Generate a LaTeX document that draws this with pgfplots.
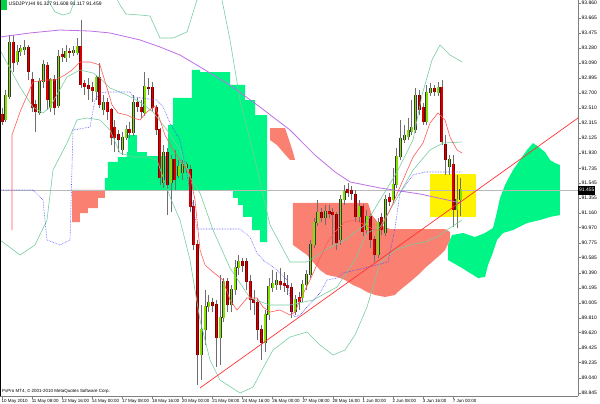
\documentclass[border=0pt]{standalone}
\usepackage{pgfplots}
\pgfplotsset{compat=1.18}
\usepackage{pgfplotstable}
\usepackage{fontspec}
\setmainfont{Liberation Sans}
\definecolor{cgreen}{RGB}{0,245,135}
\definecolor{csalmon}{RGB}{250,128,114}
\definecolor{bullfill}{RGB}{130,225,0}
\definecolor{bulledge}{RGB}{55,55,55}
\definecolor{bearfill}{RGB}{215,0,0}
\definecolor{bearedge}{RGB}{120,0,0}
\definecolor{wick}{RGB}{110,110,110}
\definecolor{maline}{RGB}{255,90,90}
\definecolor{bbgreen}{RGB}{120,205,160}
\definecolor{purp}{RGB}{190,110,230}
\definecolor{kblue}{RGB}{70,70,255}
\definecolor{trend}{RGB}{255,50,50}
\definecolor{bidgray}{RGB}{185,185,185}
\definecolor{axisgray}{RGB}{128,128,128}
\definecolor{topgreen}{RGB}{0,210,70}
\newcommand{\tf}{\fontsize{5}{6}\selectfont}
\newcommand{\xf}{\fontsize{4.5}{5.5}\selectfont}

\pgfplotstableread{
i o h l c
1 92.356 92.742 92.330 92.665
2 92.652 93.449 92.626 93.346
4 93.102 93.320 93.063 93.230
5 93.230 93.320 93.179 93.269
6 93.256 93.385 93.192 93.282
10 92.446 92.896 92.420 92.845
11 92.845 93.127 92.767 93.063
13 92.510 92.896 92.459 92.870
15 92.536 93.256 92.510 93.166
17 93.153 93.320 93.102 93.230
19 93.217 93.307 93.179 93.243
20 93.217 93.410 93.192 93.295
25 92.716 92.935 92.613 92.896
27 92.484 92.677 92.420 92.575
32 91.970 92.202 91.906 92.124
33 92.124 92.292 92.099 92.227
35 92.189 92.677 92.150 92.575
38 92.446 92.973 92.407 92.780
43 91.546 92.034 91.482 91.932
45 91.546 91.906 91.173 91.842
47 91.636 91.842 91.610 91.752
48 91.674 91.842 91.584 91.777
49 91.739 91.816 91.687 91.777
53 89.334 89.977 89.012 89.656
54 89.656 90.170 89.463 89.951
55 89.951 90.106 89.887 90.003
58 89.553 90.363 89.205 89.810
59 89.810 90.324 89.758 90.273
61 89.977 90.234 89.887 90.170
62 90.170 90.556 90.106 90.453
63 90.453 90.620 90.363 90.530
70 89.488 89.913 89.373 89.848
71 89.848 90.324 89.784 90.208
72 90.196 90.427 90.144 90.247
73 90.234 90.401 90.170 90.286
78 89.887 90.106 89.848 90.041
80 90.067 90.298 90.015 90.234
81 90.234 90.427 90.170 90.363
82 90.363 90.813 90.324 90.749
83 90.749 91.096 90.710 91.031
84 91.031 91.327 90.993 91.160
86 91.096 91.263 91.006 91.173
90 90.813 91.392 90.749 91.327
91 91.327 91.520 91.263 91.430
95 91.109 91.327 91.044 91.237
97 90.941 91.199 90.877 91.109
100 90.620 91.096 90.581 91.031
102 90.903 91.392 90.864 91.327
104 91.327 91.739 91.289 91.520
105 91.520 91.996 91.482 91.880
106 91.880 92.356 91.842 92.112
107 92.099 92.292 92.060 92.150
108 92.137 92.382 92.099 92.214
109 92.202 92.613 92.163 92.253
110 92.227 92.767 92.189 92.665
113 92.330 92.806 92.292 92.703
114 92.703 92.832 92.665 92.755
116 92.703 92.845 92.665 92.767
119 91.752 91.906 91.649 91.842
121 91.199 91.649 90.967 91.327
122 91.327 91.608 91.117 91.459
}\bull

\pgfplotstableread{
i o h l c
0 92.420 92.510 92.292 92.330
3 93.346 93.449 92.973 93.089
7 93.282 93.320 92.870 92.973
8 92.870 92.973 92.459 92.510
9 92.549 92.613 92.202 92.459
12 93.050 93.102 92.484 92.613
14 92.870 92.935 92.420 92.510
16 93.192 93.282 93.102 93.166
18 93.230 93.282 93.153 93.217
21 93.295 93.642 92.767 92.806
22 92.819 92.870 92.677 92.780
23 92.793 92.896 92.613 92.755
24 92.767 92.845 92.587 92.729
26 92.896 93.089 92.510 92.549
28 92.575 92.639 92.356 92.459
29 92.484 92.510 92.034 92.124
30 92.253 92.356 91.944 92.124
31 92.163 92.227 91.944 92.099
34 92.227 92.330 92.124 92.189
36 92.575 92.639 92.459 92.523
37 92.510 92.613 92.382 92.459
39 92.767 92.896 92.677 92.755
40 92.767 92.845 92.459 92.510
41 92.510 92.549 92.163 92.227
42 92.227 92.253 91.520 91.610
44 91.932 91.996 91.134 91.520
46 91.842 91.970 91.456 91.584
50 91.713 91.777 91.173 91.237
51 91.237 91.327 90.684 90.749
52 90.749 90.813 88.948 89.334
56 90.003 90.067 89.887 89.964
57 89.977 90.041 89.180 89.553
60 90.273 90.324 89.887 89.977
64 90.530 90.581 90.401 90.478
65 90.530 90.581 90.170 90.273
66 90.273 90.363 89.913 90.041
67 90.041 90.170 89.848 90.003
68 90.003 90.067 89.527 89.656
69 89.656 89.720 89.270 89.488
74 90.273 90.453 90.170 90.234
75 90.247 90.401 90.144 90.221
76 90.221 90.363 90.106 90.196
77 90.196 90.260 89.810 89.887
79 90.067 90.144 89.913 90.015
85 91.160 91.224 91.044 91.096
87 91.173 91.263 91.096 91.147
88 91.160 91.224 90.749 91.134
89 91.134 91.173 90.684 90.774
92 91.456 91.546 91.366 91.417
93 91.443 91.507 91.327 91.404
94 91.392 91.456 91.044 91.109
96 91.237 91.276 90.864 90.916
98 91.109 91.147 90.710 90.813
99 90.813 90.864 90.530 90.620
101 91.096 91.160 90.877 90.941
103 91.353 91.417 91.250 91.302
111 92.665 92.742 92.420 92.484
112 92.510 92.575 92.292 92.330
115 92.755 92.806 92.665 92.716
117 92.767 92.870 92.034 92.073
118 92.034 92.163 91.649 91.842
120 91.777 91.906 90.980 91.199
}\bear

\begin{document}
\begin{tikzpicture}
\begin{axis}[
  scale only axis, width=578bp, height=396bp,
  xmin=-0.532, xmax=153.19, ymin=88.807, ymax=93.899,
  separate axis lines,
  axis x line*=bottom, axis y line*=right,
  axis line style={draw=axisgray, line width=0.8bp},
  xtick={0,8,...,120},
  xticklabels={10 May 2010,11 May 08:00,12 May 16:00,14 May 00:00,17 May 08:00,18 May 16:00,20 May 00:00,21 May 08:00,24 May 16:00,26 May 00:00,27 May 08:00,28 May 16:00,1 Jun 00:00,2 Jun 08:00,3 Jun 16:00,7 Jun 00:00},
  xticklabel style={anchor=north west, inner sep=0pt, font=\xf, xshift=-0.5bp, yshift=-0.5bp},
  ytick={93.860,93.665,93.475,93.280,93.090,92.895,92.700,92.510,92.315,92.125,91.930,91.735,91.545,91.355,91.160,90.970,90.775,90.585,90.390,90.195,90.005,89.810,89.620,89.425,89.235,89.040,88.845},
  yticklabels={93.860,93.665,93.475,93.280,93.090,92.895,92.700,92.510,92.315,92.125,91.930,91.735,91.545,91.355,91.160,90.970,90.775,90.585,90.390,90.195,90.005,89.810,89.620,89.425,89.235,89.040,88.845},
  yticklabel style={font=\tf, anchor=west, inner sep=0pt, xshift=1bp},
  tick align=outside, major tick length=2.5bp,
  tick style={draw=axisgray, line width=0.6bp},
  clip mode=individual,
]
% Ichimoku cloud areas
\addplot[fill=csalmon, draw=none] coordinates {(18.62,91.456) (27.39,91.456) (27.39,91.353) (25.53,91.353) (25.53,91.224) (22.87,91.224) (22.87,91.160) (20.74,91.160) (20.74,91.044) (18.62,91.044)} --cycle;
\addplot[fill=cgreen, draw=none] coordinates {(27.39,91.456) (27.39,91.610) (28.19,91.610) (28.19,91.816) (30.85,91.816) (30.85,91.880) (33.24,91.880) (33.24,91.944) (33.51,91.944) (33.51,92.163) (35.9,92.163) (35.9,91.944) (38.56,91.944) (38.56,91.893) (44.15,91.893) (44.15,92.292) (45.48,92.292) (45.48,92.639) (50.53,92.639) (50.53,92.999) (52.66,92.999) (52.66,92.973) (60.64,92.973) (60.64,92.806) (64.63,92.806) (64.63,92.613) (67.29,92.613) (67.29,92.420) (70.48,92.420) (70.48,90.787) (68.62,90.787) (68.62,90.941) (66.49,90.941) (66.49,91.109) (64.1,91.109) (64.1,91.263) (62.77,91.263) (62.77,91.353) (61.44,91.353) (61.44,91.456)} --cycle;
\addplot[fill=csalmon, draw=none] coordinates {(71.28,92.253) (75.27,92.253) (76.33,92.099) (77.39,91.944) (77.93,91.842) (76.6,91.842) (74.73,91.944) (73.14,92.034) (71.28,92.099)} --cycle;
\addplot[fill=csalmon, draw=none] coordinates {(77.39,91.289) (97.34,91.289) (98.4,91.134) (100.53,91.006) (103.19,90.954) (117.82,90.954) (119.15,90.916) (119.15,90.813) (117.82,90.684) (116.49,90.620) (114.36,90.530) (112.5,90.453) (110.64,90.363) (108.51,90.273) (105.85,90.170) (104.52,90.106) (101.86,90.080) (99.2,90.106) (97.07,90.144) (95.21,90.196) (93.35,90.234) (91.22,90.298) (89.1,90.337) (86.44,90.363) (84.57,90.427) (82.71,90.530) (81.12,90.620) (79.26,90.684) (77.39,90.749)} --cycle;
\addplot[fill=cgreen, draw=none] coordinates {(118.62,90.749) (119.68,90.877) (122.61,90.903) (125.8,90.851) (128.46,90.903) (130.59,90.967) (131.65,91.173) (132.45,91.353) (133.78,91.520) (135.9,91.713) (137.77,91.842) (139.63,91.970) (141.22,92.060) (143.09,91.996) (144.41,91.944) (145.74,91.842) (147.07,91.803) (148.4,91.777) (148.4,91.134) (145.74,91.109) (143.09,91.070) (139.63,91.031) (135.9,90.941) (133.24,90.903) (131.65,90.813) (130.32,90.620) (129.26,90.491) (128.46,90.337) (126.6,90.324) (124.47,90.388) (122.34,90.453) (120.48,90.504) (118.62,90.556)} --cycle;
% yellow rectangle
\addplot[fill=yellow, draw=none] coordinates {(113.83,91.109) (126.06,91.109) (126.06,91.662) (113.83,91.662)} --cycle;
% bid line
\addplot[bidgray, line width=0.8bp] coordinates {(-0.532,91.455) (153.19,91.455)};
% wicks
\addplot[draw=none, mark=none, error bars/.cd, y dir=plus, y explicit, error mark=none, error bar style={draw=wick, line width=0.8bp}] table[x=i, y=l, y error plus expr=\thisrow{h}-\thisrow{l}] {\bull};
\addplot[draw=none, mark=none, error bars/.cd, y dir=plus, y explicit, error mark=none, error bar style={draw=wick, line width=0.8bp}] table[x=i, y=l, y error plus expr=\thisrow{h}-\thisrow{l}] {\bear};
% bodies
\addplot[draw=none, mark=none, error bars/.cd, y dir=plus, y explicit, error mark=none, error bar style={draw=bulledge, line width=3bp}] table[x=i, y=o, y error plus expr=\thisrow{c}-\thisrow{o}+0.008] {\bull};
\addplot[draw=none, mark=none, error bars/.cd, y dir=plus, y explicit, error mark=none, error bar style={draw=bullfill, line width=1.6bp}] table[x=i, y=o, y error plus expr=\thisrow{c}-\thisrow{o}+0.008] {\bull};
\addplot[draw=none, mark=none, error bars/.cd, y dir=plus, y explicit, error mark=none, error bar style={draw=bearedge, line width=3bp}] table[x=i, y=c, y error plus expr=\thisrow{o}-\thisrow{c}+0.008] {\bear};
\addplot[draw=none, mark=none, error bars/.cd, y dir=plus, y explicit, error mark=none, error bar style={draw=bearfill, line width=1.6bp}] table[x=i, y=c, y error plus expr=\thisrow{o}-\thisrow{c}+0.008] {\bear};
% Bollinger bands
\addplot[bbgreen, line width=0.6bp] coordinates {(-0.53,94.413) (10.1,94.156) (12.23,93.899) (14.1,93.745) (16.22,93.706) (18.09,93.732) (19.41,93.899) (22.07,94.092) (28.72,94.092) (31.38,93.835) (32.98,93.719) (36.7,93.706) (39.36,93.693) (42.02,93.410) (45.48,93.410) (49.2,93.488) (51.86,93.899) (55.32,94.220) (57.98,94.028) (60.64,93.385) (63.3,92.613) (67.29,91.842) (71.28,91.006) (76.6,90.530) (81.12,90.530) (85.9,90.684) (91.22,90.813) (96.54,91.006) (100.53,91.327) (105.05,91.687) (109.31,92.099) (111.7,92.677) (114.36,93.127) (116.49,93.320) (119.15,93.192) (122.34,93.102)};
\addplot[bbgreen, line width=0.6bp] coordinates {(-0.53,93.256) (4.79,92.780) (8.24,92.523) (10.9,92.446) (12.77,92.523) (17.29,92.909) (20.74,92.999) (24.2,92.960) (26.06,92.896) (28.72,92.767) (33.24,92.677) (36.7,92.587) (40.16,92.459) (43.88,92.227) (47.34,91.970) (50,91.623) (52.66,91.417) (56.12,90.941) (60.64,90.453) (65.96,90.067) (71.28,89.977) (76.6,89.977) (82.71,90.041) (89.1,90.208) (93.88,90.556) (97.07,90.903) (100.53,90.980) (105.85,91.417) (109.31,91.713) (113.83,91.970) (117.29,92.060) (122.34,92.073)};
\addplot[bbgreen, line width=0.6bp] coordinates {(-0.53,90.813) (4.79,90.620) (8.78,90.749) (11.97,91.070) (13.56,91.713) (17.29,92.060) (19.95,92.356) (22.61,92.382) (26.06,92.356) (28.72,92.227) (31.38,91.932) (34.84,91.880) (38.56,91.880) (41.22,91.842) (44.68,91.366) (47.34,91.070) (50,90.556) (52.66,89.784) (55.32,89.270) (57.98,89.012) (63.3,88.845) (66.76,88.922) (69.15,89.141) (72.07,89.398) (76.6,89.565) (81.12,89.630) (84.57,89.463) (88.03,89.334) (91.22,89.398) (93.88,89.591) (97.07,89.951) (100.53,90.517) (104.52,90.684) (108.51,90.749) (112.5,90.787) (115.69,90.851) (118.35,90.941) (122.34,91.070)};
% purple MA
\addplot[purp, line width=0.8bp] coordinates {(-0.53,93.423) (7.45,93.475) (15.43,93.513) (23.4,93.500) (28.7,93.475) (36.7,93.385) (42.0,93.295) (47.3,93.192) (52.7,93.037) (60.6,92.806) (68.6,92.523) (76.6,92.227) (83.2,91.906) (88.6,91.687) (92.6,91.559) (100.5,91.482) (111.2,91.404) (122.1,91.289)};
% blue dotted
\addplot[kblue, line width=0.6bp, densely dotted] coordinates {(-0.53,91.456) (8.24,91.456) (10.9,91.327) (11.97,90.813) (15.43,90.749) (18.09,90.813) (18.88,92.227) (23.4,92.266) (24.73,92.613) (26.06,92.703) (27.93,92.716) (34.04,92.716) (34.84,92.652) (41.22,92.613) (42.82,92.523) (44.68,92.317) (47.34,92.099) (50.0,91.456) (51.86,90.954) (63.3,90.954) (65.96,90.851) (67.82,90.646) (69.41,90.556) (72.07,90.466) (73.94,90.388) (75.8,90.298) (76.6,90.080) (77.13,89.874) (77.93,89.823) (79.26,89.848) (81.12,89.951) (84.57,90.131) (86.44,90.298) (89.1,90.324) (90.69,90.388) (96.54,90.453) (102.66,90.530) (104.52,90.967) (105.85,91.417) (109.31,91.649) (112.5,91.687) (122.34,91.687)};
% red MA
\addplot[maline, line width=0.6bp] coordinates {(2.66,90.941) (2.66,92.163) (4.79,92.459) (8.24,92.845) (11.44,92.870) (14.1,92.870) (16.76,92.935) (18.62,92.999) (20.74,93.102) (23.4,93.102) (26.06,93.063) (27.93,92.767) (29.26,92.549) (30.85,92.446) (33.24,92.420) (34.84,92.382) (36.7,92.356) (38.56,92.459) (40.69,92.536) (42.02,92.356) (43.35,92.163) (45.21,91.996) (47.34,91.842) (50,91.649) (51.33,91.327) (52.66,90.684) (53.99,90.491) (56.12,90.401) (58.78,90.298) (60.64,90.041) (62.5,89.913) (65.16,90.067) (67.82,90.067) (69.41,89.951) (71.28,89.887) (73.94,89.913) (76.6,89.848) (77.93,89.887) (79.26,90.041) (81.91,90.298) (84.57,90.581) (86.44,90.774) (88.56,90.916) (91.22,91.044) (93.88,91.070) (96.54,91.006) (99.2,90.941) (100.53,90.941) (103.19,91.199) (105.85,91.494) (109.31,91.880) (111.97,92.060) (113.83,92.317) (115.96,92.446) (117.82,92.356) (119.15,92.137) (121.01,91.970) (122.34,91.932)};
% trend line
\addplot[trend, line width=0.7bp] coordinates {(52.66,88.910) (153.19,92.382)};
% annotations
\fill[topgreen] (rel axis cs:0,1) rectangle ([xshift=7bp,yshift=-10bp]rel axis cs:0,1);
\node[anchor=north west, inner sep=0pt, font=\tf, xshift=8.5bp, yshift=-1.5bp] at (rel axis cs:0,1) {USDJPY,H4 91.327 91.608 91.117 91.459};
\node[anchor=south west, inner sep=0pt, font=\xf, xshift=2bp, yshift=2.5bp] at (rel axis cs:0,0) {PvPro MT4, \textcopyright\ 2001-2010 MetaQuotes Software Corp.};
\draw[black, line width=1bp] (rel axis cs:0,0) -- (rel axis cs:0,1);
\node[fill=black, text=white, anchor=west, inner xsep=1bp, inner ysep=0pt, minimum height=9bp, font=\tf] at (axis cs:153.19,91.455) {91.455};
\end{axis}
\pgfresetboundingbox
\path[use as bounding box] (0,-8bp) rectangle (600bp,396bp);
\end{tikzpicture}
\end{document}
